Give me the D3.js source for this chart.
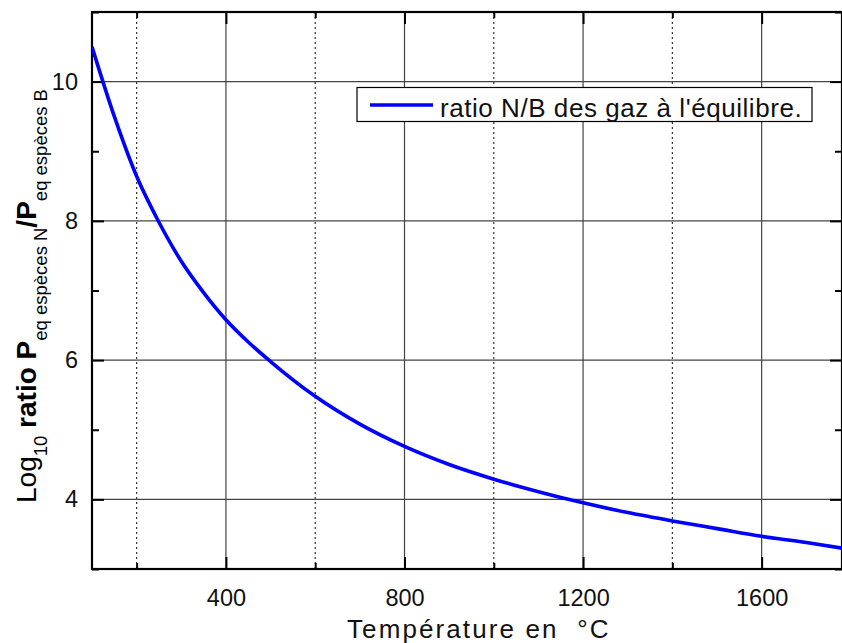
<!DOCTYPE html>
<html>
<head>
<meta charset="utf-8">
<script src="https://cdn.jsdelivr.net/npm/d3@7"></script>
<style>
  html, body { margin: 0; padding: 0; background: #fff; }
  svg { display: block; font-family: "Liberation Sans", Arial, sans-serif; }
</style>
</head>
<body>
<svg id="chart" width="842" height="643"></svg>
<script>
// Data
const temperatures = [100, 150, 200, 250, 300, 350, 400, 450, 500, 600, 700, 800, 900, 1000, 1100, 1200, 1300, 1400, 1500, 1600, 1700, 1780];
const logRatio =     [10.50, 9.50, 8.64, 7.98, 7.42, 6.97, 6.58, 6.26, 5.98, 5.48, 5.08, 4.76, 4.50, 4.29, 4.11, 3.95, 3.81, 3.69, 3.58, 3.47, 3.38, 3.30];
const xMajorTicks = [400, 800, 1200, 1600];
const xMinorTicks = [200, 600, 1000, 1400];
const yMajorTicks = [4, 6, 8, 10];
const yMinorTicks = [3, 5, 7, 9, 11];
const seriesName = "ratio N/B des gaz à l'équilibre.";
const xTitle = "Température en  °C";

const svg = d3.select("#chart");
const mLeft = 92, mRight = 842, mTop = 12, mBottom = 569;
const x = d3.scaleLinear().domain([100, 1780]).range([mLeft, mRight]);
const y = d3.scaleLinear().domain([3, 11]).range([mBottom, mTop]);

// grid
const g = svg.append("g");
g.selectAll("line.vmaj").data(xMajorTicks).enter().append("line")
  .attr("x1", d => x(d)).attr("x2", d => x(d)).attr("y1", mTop).attr("y2", mBottom)
  .attr("stroke", "#444").attr("stroke-width", 1.2);
g.selectAll("line.vmin").data(xMinorTicks).enter().append("line")
  .attr("x1", d => x(d)).attr("x2", d => x(d)).attr("y1", mTop).attr("y2", mBottom)
  .attr("stroke", "#333").attr("stroke-width", 1.2).attr("stroke-dasharray", "2,3");
g.selectAll("line.hmaj").data(yMajorTicks).enter().append("line")
  .attr("x1", mLeft).attr("x2", mRight).attr("y1", d => y(d)).attr("y2", d => y(d))
  .attr("stroke", "#444").attr("stroke-width", 1.2);

// axes with inward ticks
const fontTick = 23.5;
const axB = d3.axisBottom(x).tickValues(xMajorTicks).tickSize(-12).tickPadding(20).tickFormat(d3.format("d"));
const axBm = d3.axisBottom(x).tickValues(xMinorTicks).tickSize(-6).tickFormat("");
const axT = d3.axisTop(x).tickValues(xMajorTicks).tickSize(-12).tickFormat("");
const axTm = d3.axisTop(x).tickValues(xMinorTicks).tickSize(-6).tickFormat("");
const axL = d3.axisLeft(y).tickValues(yMajorTicks).tickSize(-12).tickPadding(14).tickFormat(d3.format("d"));
const axLm = d3.axisLeft(y).tickValues(yMinorTicks).tickSize(-7).tickFormat("");
const axR = d3.axisRight(y).tickValues(yMajorTicks).tickSize(-12).tickFormat("");
const axRm = d3.axisRight(y).tickValues(yMinorTicks).tickSize(-7).tickFormat("");

function styleAxis(sel) {
  sel.select(".domain").remove();
  sel.selectAll(".tick line").attr("stroke", "#000").attr("stroke-width", 2);
  sel.selectAll(".tick text").attr("font-size", fontTick).attr("fill", "#111")
    .attr("font-family", "Liberation Sans, Arial, sans-serif");
}
svg.append("g").attr("transform", `translate(0,${mBottom})`).call(axB).call(styleAxis);
svg.append("g").attr("transform", `translate(0,${mBottom})`).call(axBm).call(styleAxis);
svg.append("g").attr("transform", `translate(0,${mTop})`).call(axT).call(styleAxis);
svg.append("g").attr("transform", `translate(0,${mTop})`).call(axTm).call(styleAxis);
svg.append("g").attr("transform", `translate(${mLeft},0)`).call(axL).call(styleAxis);
svg.append("g").attr("transform", `translate(${mLeft},0)`).call(axLm).call(styleAxis);
svg.append("g").attr("transform", `translate(${mRight},0)`).call(axR).call(styleAxis);
svg.append("g").attr("transform", `translate(${mRight},0)`).call(axRm).call(styleAxis);

// frame
svg.append("rect").attr("x", mLeft).attr("y", mTop).attr("width", mRight - mLeft).attr("height", mBottom - mTop)
  .attr("fill", "none").attr("stroke", "#000").attr("stroke-width", 2.2);

// clip + curve
svg.append("clipPath").attr("id", "clip").append("rect")
  .attr("x", mLeft).attr("y", mTop).attr("width", mRight - mLeft).attr("height", mBottom - mTop);
const pts = temperatures.map((t, i) => [t, logRatio[i]]);
svg.append("path").datum(pts)
  .attr("clip-path", "url(#clip)")
  .attr("fill", "none").attr("stroke", "#0000ff").attr("stroke-width", 3.6)
  .attr("d", d3.line().x(d => x(d[0])).y(d => y(d[1])).curve(d3.curveMonotoneX));

// legend
const lg = svg.append("g");
lg.append("rect").attr("x", 357).attr("y", 87.5).attr("width", 455).attr("height", 34)
  .attr("fill", "#fff").attr("stroke", "#000").attr("stroke-width", 1.2);
lg.append("line").attr("x1", 370).attr("x2", 433).attr("y1", 105).attr("y2", 105)
  .attr("stroke", "#0000ff").attr("stroke-width", 3.6);
lg.append("text").attr("x", 440).attr("y", 117).attr("font-size", 26)
  .attr("letter-spacing", 0.55).attr("fill", "#111")
  .text(seriesName);

// x title
svg.append("text").attr("x", 347).attr("y", 638)
  .attr("font-size", 26).attr("letter-spacing", 2.1)
  .style("white-space", "pre")
  .attr("fill", "#111").text(xTitle);

// y title (rotated, with subscripts)
const yt = svg.append("text").attr("transform", "translate(35.5,296) rotate(-90)")
  .attr("text-anchor", "middle").attr("fill", "#000");
yt.append("tspan").attr("font-size", 28).text("Log");
yt.append("tspan").attr("font-size", 18.5).attr("dy", 11).text("10");
yt.append("tspan").attr("font-size", 28).attr("font-weight", "bold").attr("dy", -11).text(" ratio P");
yt.append("tspan").attr("font-size", 18.5).attr("dy", 11).text("eq espèces N");
yt.append("tspan").attr("font-size", 28).attr("font-weight", "bold").attr("dy", -11).text("/P");
yt.append("tspan").attr("font-size", 18.5).attr("dy", 11).text("eq espèces B");
</script>
</body>
</html>
